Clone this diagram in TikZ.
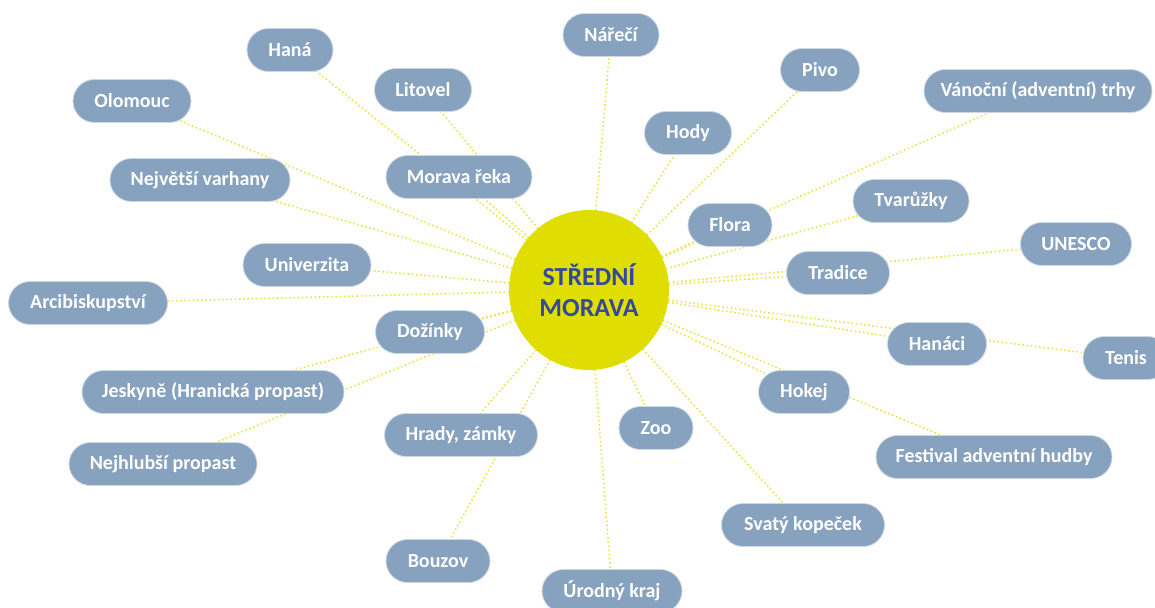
\documentclass[tikz,border=0pt]{standalone}
\usepackage{fontspec}
\setmainfont{Carlito}
\definecolor{boxfill}{RGB}{134,162,190}
\definecolor{boxedge}{RGB}{205,216,228}
\definecolor{sunfill}{RGB}{224,222,0}
\definecolor{suntext}{RGB}{52,72,156}
\definecolor{dotline}{RGB}{236,226,70}
\pgfdeclarelayer{bg}
\pgfsetlayers{bg,main}
\tikzset{
  box/.style={draw=boxedge, line width=0.8pt, fill=boxfill, rounded corners=21.5pt,
    minimum height=43pt, inner sep=0pt, text=white,
    font=\fontsize{20}{23}\selectfont\bfseries},
  conn/.style={draw=dotline, line width=1.6pt, dash pattern=on 1.6pt off 2.6pt}
}
\begin{document}
\begin{tikzpicture}[x=1pt,y=-1pt]
\useasboundingbox (0,0) rectangle (1155,607);
\clip (0,0) rectangle (1155,607);
\node[circle, fill=sunfill, minimum size=160pt, inner sep=0pt, text=suntext, align=center,
  font=\fontsize{26}{31}\selectfont\bfseries] (c) at (589,290) {STŘEDNÍ\\MORAVA};
\node[box, minimum width=96pt] (narec) at (611,35) {Nářečí};
\node[box, minimum width=86pt] (hana) at (290,50) {Haná};
\node[box, minimum width=118pt] (olomouc) at (132,101) {Olomouc};
\node[box, minimum width=97pt] (litovel) at (423,90) {Litovel};
\node[box, minimum width=79pt] (pivo) at (820,70) {Pivo};
\node[box, minimum width=228pt] (vanocni) at (1038,91) {Vánoční (adventní) trhy};
\node[box, minimum width=87pt] (hody) at (688,133) {Hody};
\node[box, minimum width=146pt] (morava) at (459,177) {Morava řeka};
\node[box, minimum width=180pt] (varhany) at (200,180) {Největší varhany};
\node[box, minimum width=116pt] (tvaruzky) at (911,201) {Tvarůžky};
\node[box, minimum width=84pt] (flora) at (730,225) {Flora};
\node[box, minimum width=111pt] (unesco) at (1076,244) {UNESCO};
\node[box, minimum width=128pt] (univerzita) at (307,265) {Univerzita};
\node[box, minimum width=103pt] (tradice) at (838,273) {Tradice};
\node[box, minimum width=159pt] (arcibis) at (88,303) {Arcibiskupství};
\node[box, minimum width=109pt] (dozinky) at (430,332) {Dožínky};
\node[box, minimum width=99pt] (hanaci) at (937,344) {Hanáci};
\node[box, minimum width=86pt] (tenis) at (1126,358) {Tenis};
\node[box, minimum width=262pt] (jeskyne) at (213,392) {Jeskyně (Hranická propast)};
\node[box, minimum width=91pt] (hokej) at (804,392) {Hokej};
\node[box, minimum width=153pt] (hrady) at (461,435) {Hrady, zámky};
\node[box, minimum width=74pt] (zoo) at (656,428) {Zoo};
\node[box, minimum width=236pt] (festival) at (994,457) {Festival adventní hudby};
\node[box, minimum width=188pt] (nejhlubsi) at (163,464) {Nejhlubší propast};
\node[box, minimum width=163pt] (svaty) at (803,525) {Svatý kopeček};
\node[box, minimum width=104pt] (bouzov) at (438,561) {Bouzov};
\node[box, minimum width=140pt] (urodny) at (612,591) {Úrodný kraj};
\begin{pgfonlayer}{bg}
\foreach \n in {narec,hana,olomouc,litovel,pivo,vanocni,hody,morava,varhany,tvaruzky,flora,unesco,univerzita,tradice,arcibis,dozinky,hanaci,tenis,jeskyne,hokej,hrady,zoo,festival,nejhlubsi,svaty,bouzov,urodny}
  \draw[conn] (c.center) -- (\n.center);
\end{pgfonlayer}
\end{tikzpicture}
\end{document}
